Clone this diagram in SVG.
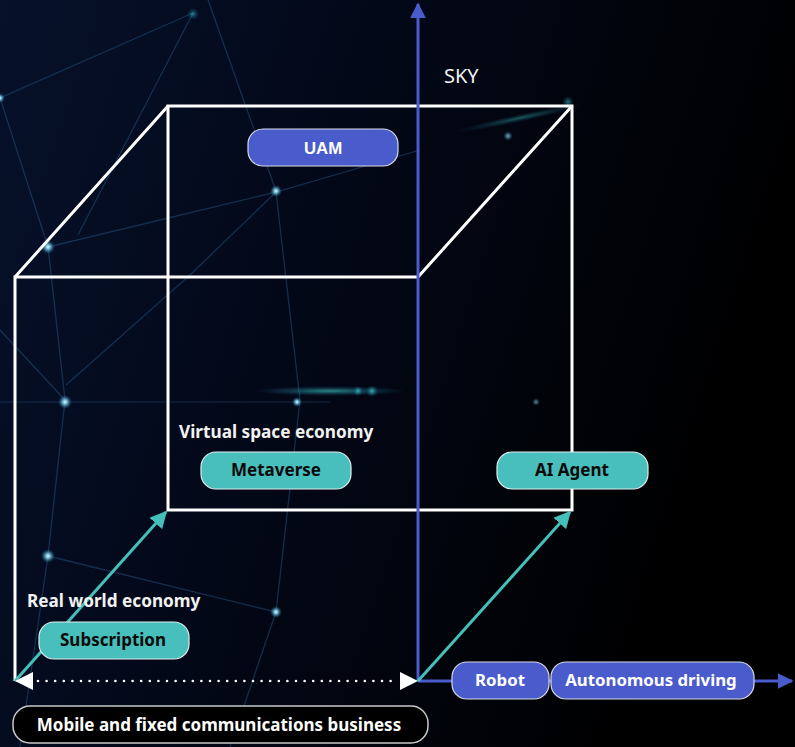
<svg xmlns="http://www.w3.org/2000/svg" width="795" height="747" viewBox="0 0 795 747">
<defs>
<linearGradient id="bg" x1="0" y1="0" x2="1" y2="0.3">
<stop offset="0" stop-color="#06112a"/>
<stop offset="0.45" stop-color="#030818"/>
<stop offset="1" stop-color="#000000"/>
</linearGradient>
<radialGradient id="glow">
<stop offset="0" stop-color="#e8fbff"/>
<stop offset="0.35" stop-color="#7fd6f0" stop-opacity="0.8"/>
<stop offset="1" stop-color="#1a6a9a" stop-opacity="0"/>
</radialGradient>
<radialGradient id="tglow">
<stop offset="0" stop-color="#3fd0c8" stop-opacity="0.8"/>
<stop offset="1" stop-color="#1a6a9a" stop-opacity="0"/>
</radialGradient>
<marker id="blueHead" viewBox="0 0 10 10" refX="9" refY="5" markerWidth="16" markerHeight="16" markerUnits="userSpaceOnUse" orient="auto">
<path d="M0,0 L10,5 L0,10 z" fill="#4a5bcc"/>
</marker>
<marker id="tealHead" viewBox="0 0 10 10" refX="9" refY="5" markerWidth="17" markerHeight="17" markerUnits="userSpaceOnUse" orient="auto">
<path d="M0,0 L10,5 L0,10 z" fill="#45bfb9"/>
</marker>
<style>
.bgl{stroke:#2a6699;stroke-width:1.3;fill:none;opacity:0.4}
.cube{stroke:#ffffff;stroke-width:3;fill:none;stroke-linejoin:miter}
.axis{stroke:#4a5bcc;stroke-width:3;fill:none}
.teal{stroke:#45bfb9;stroke-width:3;fill:none}
.pb{fill:#4a5bcc;stroke:#d8dbe8;stroke-width:1.2}
.pt{fill:#48bfbd;stroke:#dfeeee;stroke-width:1.2}
.pk{fill:#000000;stroke:#c8c8c8;stroke-width:1.5}
.lw{font-family:"Noto Sans","Liberation Sans",sans-serif;font-weight:700;font-size:16.8px;fill:#ffffff;text-anchor:middle}
.ld{font-family:"Noto Sans","Liberation Sans",sans-serif;font-weight:700;font-size:17px;fill:#0a0a0a;text-anchor:middle}
.cap{font-family:"Noto Sans","Liberation Sans",sans-serif;font-weight:700;font-size:17.2px;fill:#f2f2f2}
</style>
</defs>
<rect width="795" height="747" fill="url(#bg)"/>
<g id="background">
<path class="bgl" d="M0,98 L193,13 M193,13 L78,235 M208,0 L276,191 M0,98 L48,247 M48,247 L276,192 L420,150 M48,247 L65,400 M276,192 L300,400 M66,385 L190,275 M65,400 L48,556 M48,556 L276,612 M300,400 L276,612 M65,400 L0,330 M276,612 L230,747 M48,556 L20,747 M190,275 L276,192"/>
<path d="M0,402 L330,402" stroke="#2a6699" stroke-width="1.3" opacity="0.25"/>
<circle cx="48" cy="247" r="7" fill="url(#glow)"/>
<circle cx="276" cy="191" r="6" fill="url(#glow)"/>
<circle cx="65" cy="402" r="7" fill="url(#glow)"/>
<circle cx="48" cy="556" r="7" fill="url(#glow)"/>
<circle cx="276" cy="612" r="6" fill="url(#glow)"/>
<circle cx="297" cy="402" r="5" fill="url(#glow)"/>
<circle cx="0" cy="98" r="5" fill="url(#glow)"/>
<circle cx="193" cy="14" r="6" fill="url(#tglow)" opacity="0.7"/>
<circle cx="536" cy="402" r="4" fill="url(#glow)" opacity="0.5"/>
<circle cx="508" cy="136" r="5" fill="url(#glow)" opacity="0.6"/>
<ellipse cx="330" cy="391" rx="75" ry="5" fill="url(#tglow)" opacity="0.8"/>
<circle cx="372" cy="391" r="6" fill="url(#tglow)"/>
<circle cx="358" cy="391" r="5" fill="url(#tglow)"/>
<ellipse cx="520" cy="118" rx="65" ry="4" fill="url(#tglow)" opacity="0.5" transform="rotate(-12 520 118)"/>
<circle cx="568" cy="102" r="6" fill="url(#tglow)" opacity="0.7"/>
</g>
<g id="connectors">
<path class="cube" d="M168,106 H572 V510 H168 Z"/>
<path class="cube" d="M15,681 V277 H418"/>
<path class="cube" d="M15,277 L168,106 M418,277 L572,106"/>
<line class="axis" x1="418" y1="681" x2="418" y2="4" marker-end="url(#blueHead)"/>
<line class="axis" x1="418" y1="681" x2="792" y2="681" marker-end="url(#blueHead)"/>
<line class="teal" x1="15" y1="681" x2="166" y2="512" marker-end="url(#tealHead)"/>
<line class="teal" x1="418" y1="681" x2="570" y2="512" marker-end="url(#tealHead)"/>
<line x1="38" y1="681" x2="396" y2="681" stroke="#ffffff" stroke-width="2.6" stroke-linecap="round" stroke-dasharray="0 8.6"/>
<path d="M33,672 L15,681 L33,690 Z M400,672 L418,681 L400,690 Z" fill="#ffffff"/>
</g>
<text class="cap" x="444" y="83" style="font-weight:400;font-size:20px">SKY</text>
<text class="cap" x="179" y="438">Virtual space economy</text>
<text class="cap" x="27" y="607">Real world economy</text>
<g id="uam"><rect class="pb" x="248" y="129" width="150" height="37" rx="15"/><text class="lw" x="323" y="154" style="font-family:'Liberation Sans',Arial,sans-serif">UAM</text></g>
<g id="metaverse"><rect class="pt" x="201" y="452" width="150" height="37" rx="15"/><text class="ld" x="276" y="476">Metaverse</text></g>
<g id="ai-agent"><rect class="pt" x="497" y="452" width="151" height="37" rx="15"/><text class="ld" x="572" y="476">AI Agent</text></g>
<g id="subscription"><rect class="pt" x="39" y="622" width="150" height="37" rx="15"/><text class="ld" x="113" y="646">Subscription</text></g>
<g id="robot"><rect class="pb" x="452" y="662" width="97" height="37" rx="15"/><text class="lw" x="500" y="686">Robot</text></g>
<g id="autonomous-driving"><rect class="pb" x="551" y="662" width="203" height="37" rx="15"/><text class="lw" x="651" y="686">Autonomous driving</text></g>
<g id="mobile-fixed"><rect class="pk" x="13" y="706" width="415" height="37" rx="17"/><text class="lw" x="219" y="731" style="font-size:17px">Mobile and fixed communications business</text></g>
</svg>
